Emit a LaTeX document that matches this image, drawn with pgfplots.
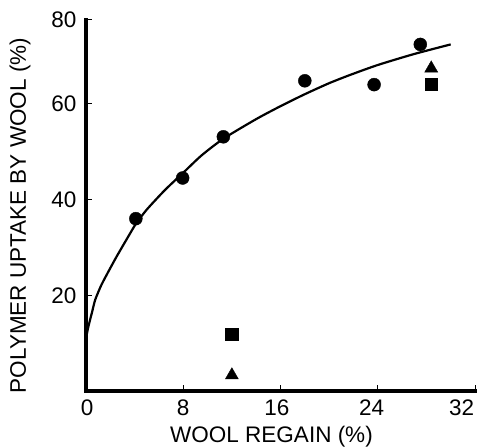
\documentclass[border=0pt]{standalone}
\usepackage{pgfplots}
\pgfplotsset{compat=1.18}
\usepackage{fontspec}
\setmainfont{Liberation Sans}
\begin{document}
\begin{tikzpicture}
\begin{axis}[
  name=ax,
  scale only axis,
  width=389pt, height=371pt,
  xmin=0, xmax=32, ymin=0, ymax=77.5,
  axis x line*=bottom, axis y line*=left,
  axis line style={line width=4.5pt, line cap=rect},
  xtick={0,8,16,24,32},
  xticklabels={},
  extra x ticks={0.1,8.0,15.7,23.5,30.9},
  extra x tick labels={0,8,16,24,32},
  extra x tick style={major tick length=0pt, tick style={draw=none}},
  ytick={20,40,60,77.5},
  yticklabels={20,40,60,80},
  tick align=inside,
  major tick length=6pt,
  tick style={line width=1pt, black},
  ticklabel style={font=\fontsize{22.5}{24}\selectfont},
  xticklabel style={yshift=-5pt},
  yticklabel style={xshift=-6pt},
  /pgf/number format/assume math mode=true,
  label style={font=\fontsize{22.5}{24}\selectfont},
  xlabel={WOOL REGAIN (\%)},
  ylabel={POLYMER UPTAKE BY WOOL (\%)},
  xlabel style={xshift=-9pt, yshift=-4pt},
  ylabel style={xshift=-10pt, yshift=14pt},
  clip=false,
]
\addplot[black, line width=2.2pt, smooth, tension=0.4] coordinates {
 (0,11) (0.2,13.5) (0.5,16.5) (0.75,19) (1.2,21.8) (1.6,23.8) (2.5,28)
 (3.6,32.8) (4.1,34.9) (5,37.9) (6.5,42) (8,45.6) (9.5,49.2) (11.3,52.7)
 (14,56.8) (16,59.5) (18,62) (20,64.3) (21.7,66) (24,68.1) (27,70.4) (30,72.4)};
\addplot[only marks, mark=*, mark size=6.5pt, black] coordinates {
 (4.1,36.0) (7.95,44.5) (11.3,53.1) (18.0,64.8) (23.7,64.0) (27.5,72.4)};
\addplot[only marks, mark=square*, mark size=6.3pt, black] coordinates {
 (28.4,64.1) (12.0,11.9)};
\addplot[only marks, mark=triangle*, mark size=7.5pt, black] coordinates {
 (28.4,67.4) (12.0,3.3)};
\end{axis}
\pgfresetboundingbox
\path ([shift={(-86pt,-55pt)}]ax.south west) rectangle ([shift={(12pt,20pt)}]ax.north east);
\end{tikzpicture}
\end{document}
